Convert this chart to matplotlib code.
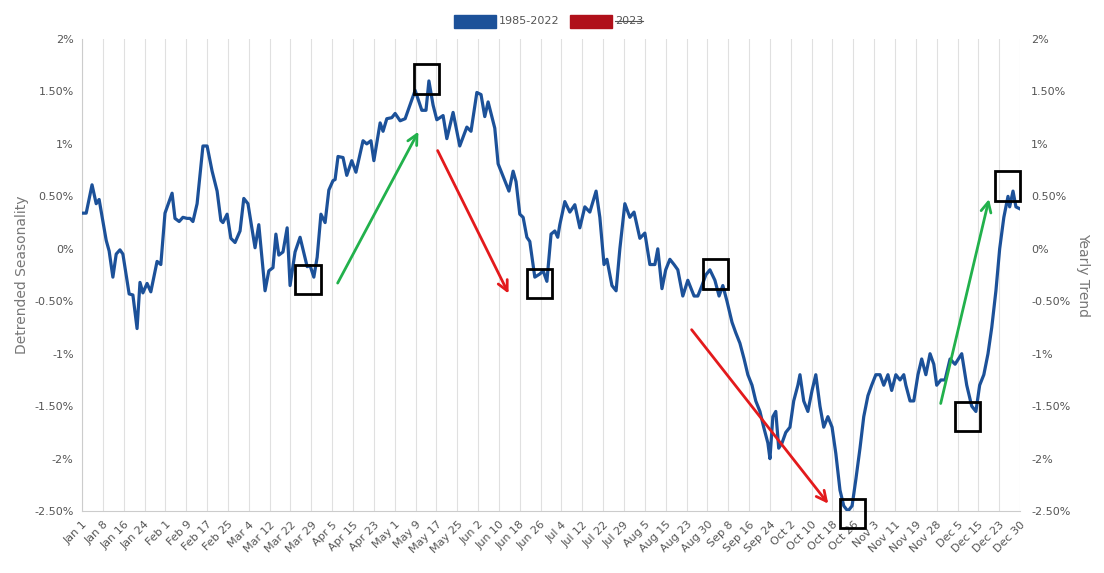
import matplotlib
matplotlib.use("Agg")
import matplotlib.pyplot as plt
from matplotlib.lines import Line2D
from matplotlib.patches import Rectangle

tick_labels = ["Jan 1","Jan 8","Jan 16","Jan 24","Feb 1","Feb 9","Feb 17","Feb 25","Mar 4","Mar 12",
 "Mar 22","Mar 29","Apr 5","Apr 15","Apr 23","May 1","May 9","May 17","May 25","Jun 2","Jun 10",
 "Jun 18","Jun 26","Jul 4","Jul 12","Jul 22","Jul 29","Aug 5","Aug 15","Aug 23","Aug 30","Sep 8",
 "Sep 16","Sep 24","Oct 2","Oct 10","Oct 18","Oct 26","Nov 3","Nov 11","Nov 19","Nov 28","Dec 5",
 "Dec 15","Dec 23","Dec 30"]

days = [0,1,2.4,3.4,4.1,5.8,6.5,7.4,8.2,9.1,9.8,11.3,12.2,13.2,13.9,14.6,15.6,16.5,18,18.9,19.9,
 21.6,22.3,23.3,24.2,25.2,25.9,26.6,27.6,29,30,31.2,32.4,33.3,33.8,34.8,35.7,36.7,37.9,38.8,39.8,
 41.5,42.4,43.9,44.8,45.8,46.5,47.2,48.2,49.2,49.9,51.1,52.3,54,54.7,55.6,56.4,57.3,58.3,59.2,60.2,
 60.7,61.4,62.6,63.5,64.7,65.7,67.4,68.3,69.3,70,71.5,72.2,73.1,74.3,75.1,76.3,77.5,79.9,81.5,82.5,
 83.2,84.2,85.1,86.6,87.5,89,90.6,92.3,93.3,94.7,95.7,96.6,97.4,99,99.8,101.9,102.4,103.4,104.1,105,
 105.8,106.7,107.4,108.6,109.8,110.6,111.5,112.5,113.4,114.1,114.6,115.8,117,118.2,119.4,120.6,121.8,
 123.3,124.2,125.2,125.9,127.1,128.1,129,130.2,131.4,132.4,133.8,135,136.2,137.4,138.1,139.1,140,141,
 142,142.9,144.1,145.3,146.8,147.7,148.7,149.6,150.6,151.8,152.8,153.7,154.7,155.9,156.8,157.8,158.8,
 159.7,160.7,161.6,162.6,163.5,164.5,165,165.7,166.4,167.1,167.9,168.8,169.8,170.7,171.7,172.2,173.1,
 174.1,175.1,176,177,177.9,178.9,179.9,180.8,181.8,182.7,183.7,184.7,185.6,186.6,187.5,188.5,189.4,
 190.4,191.4,192.3,193.3,194.2,195.2,196.2,197.1,197.6,198.6,199.5,200.5,201.4,202.4,203.4,204.3,205,
 206,207,208.2,209.4,211,212.2,213.4,214.4,215.3,216.3,217.3,218.2,219.2,220.1,221.1,222.1,222.5,223.3,
 224,225]
values = [.34,.34,.61,.43,.47,.08,-.02,-.27,-.05,-.01,-.05,-.43,-.44,-.76,-.32,-.42,-.33,-.41,-.12,-.15,.34,
 .53,.29,.26,.30,.29,.29,.26,.43,.98,.98,.74,.55,.27,.25,.33,.10,.06,.17,.48,.43,
 .01,.23,-.40,-.21,-.18,.14,-.06,-.03,.20,-.35,-.03,.11,-.17,-.16,-.27,-.08,.33,.25,.56,.65,
 .66,.88,.87,.70,.84,.73,1.03,1.0,1.03,.84,1.20,1.12,1.24,1.25,1.29,1.22,1.24,1.51,1.32,1.32,
 1.60,1.37,1.23,1.27,1.05,1.30,.98,1.16,1.12,1.49,1.47,1.26,1.40,1.15,.81,.60,.55,.74,.64,.33,
 .30,.11,.07,-.27,-.24,-.21,-.31,.14,.17,.11,.23,.45,.35,.42,.2,.4,.35,
 .55,.3,-.15,-.1,-.35,-.4,0,.43,.3,.35,.1,.15,-.15,-.15,0,-.38,-.2,-.1,
 -.15,-.2,-.45,-.3,-.45,-.45,-.35,-.25,-.2,-.3,-.45,-.35,-.5,-.7,-.8,-.9,-1.05,
 -1.2,-1.3,-1.45,-1.55,-1.7,-1.85,-2.0,-1.6,-1.55,-1.9,-1.85,-1.75,-1.7,-1.45,-1.3,-1.2,-1.45,
 -1.55,-1.35,-1.2,-1.5,-1.7,-1.6,-1.7,-1.95,-2.3,-2.45,-2.5,-2.45,-2.2,-1.9,-1.6,-1.4,-1.3,
 -1.2,-1.2,-1.3,-1.2,-1.35,-1.2,-1.25,-1.2,-1.3,-1.45,-1.45,-1.2,-1.05,-1.2,-1.0,-1.1,-1.3,
 -1.25,-1.25,-1.05,-1.1,-1.0,-1.3,-1.5,-1.55,-1.3,-1.2,-1.0,-.75,-.4,0,.3,.5,.4,.55,
 .4,.38]

# hand-drawn annotations (data units)
green_arrows = [((61, -0.35), (81, 1.14)), ((205.8, -1.5), (217.7, 0.5))]
red_arrows = [((85, 0.96), (102.6, -0.45)), ((145.8, -0.75), (179.4, -2.45))]
boxes = [(54.2, -0.29), (82.7, 1.62), (109.8, -0.33), (152, -0.24), (184.7, -2.52), (212.5, -1.6), (222, 0.6)]

yticks = [2, 1.5, 1, 0.5, 0, -0.5, -1, -1.5, -2, -2.5]
ylabels = ["2%", "1.50%", "1%", "0.50%", "0%", "-0.50%", "-1%", "-1.50%", "-2%", "-2.50%"]

fig = plt.figure(figsize=(11.04, 5.73), dpi=100)
ax = fig.add_axes([0.0743, 0.108, 0.8497, 0.824])
ax.plot(days, values, color="#1c5199", lw=2.3, zorder=3, solid_joinstyle="round")
ax.set_xlim(0, 225)
ax.set_ylim(-2.5, 2)
ax.set_xticks([i * 5 for i in range(len(tick_labels))])
ax.set_xticklabels(tick_labels, rotation=45, ha="right", rotation_mode="anchor", fontsize=8, color="#555555")
ax.set_yticks(yticks)
ax.set_yticklabels(ylabels, fontsize=8, color="#555555")
ax.grid(axis="x", color="#e0e0e0", lw=0.8)
for s in ["top", "right"]:
    ax.spines[s].set_visible(False)
ax.spines["left"].set_color("#cccccc")
ax.spines["bottom"].set_color("#cccccc")
ax.tick_params(length=0, pad=6)
ax.set_ylabel("Detrended Seasonality", color="#777777", fontsize=10)
ax2 = ax.twinx()
ax2.set_ylim(-2.5, 2)
ax2.set_yticks(yticks)
ax2.set_yticklabels(ylabels, fontsize=8, color="#555555")
ax2.tick_params(length=0, pad=8)
for s in ax2.spines.values():
    s.set_visible(False)
ax2.set_ylabel("Yearly Trend", color="#777777", fontsize=10, rotation=270, labelpad=14)

for (a, b) in green_arrows:
    ax.annotate("", xy=b, xytext=a, arrowprops=dict(arrowstyle="->", color="#22b14c", lw=2, mutation_scale=18), zorder=4)
for (a, b) in red_arrows:
    ax.annotate("", xy=b, xytext=a, arrowprops=dict(arrowstyle="->", color="#e31a1c", lw=2, mutation_scale=18), zorder=4)
for (cx, cy) in boxes:
    ax.add_patch(Rectangle((cx - 3, cy - 0.14), 6, 0.28, fill=False, ec="black", lw=2, zorder=5, clip_on=False))

# legend
fig.patches.append(Rectangle((0.411, 0.952), 0.038, 0.022, transform=fig.transFigure, color="#1c5199"))
fig.text(0.452, 0.963, "1985-2022", fontsize=8, color="#555555", va="center")
fig.patches.append(Rectangle((0.516, 0.952), 0.038, 0.022, transform=fig.transFigure, color="#b0101a"))
fig.text(0.557, 0.963, "2023", fontsize=8, color="#555555", va="center")
fig.lines.append(Line2D([0.557, 0.582], [0.964, 0.964], transform=fig.transFigure, color="#555555", lw=0.8))

fig.savefig("out.png", dpi=100)
